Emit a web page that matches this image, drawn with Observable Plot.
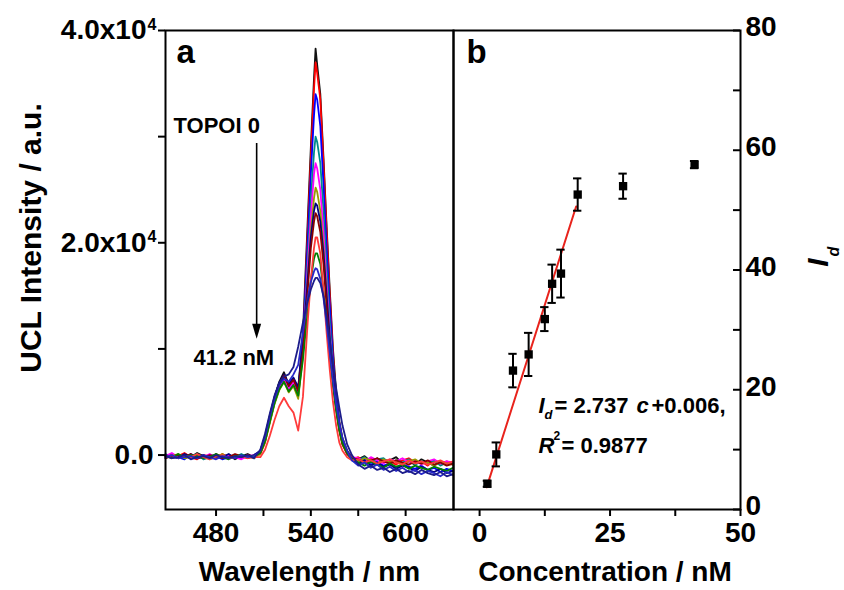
<!DOCTYPE html>
<html><head><meta charset="utf-8">
<script src="https://cdn.jsdelivr.net/npm/d3@7"></script>
<script src="https://cdn.jsdelivr.net/npm/@observablehq/plot@0.6"></script>
<style>
body{margin:0;background:#fff;}
#wrap{position:relative;width:844px;height:590px;overflow:hidden;background:#fff;}
#wrap svg{position:absolute;top:0;}
</style></head><body><div id="wrap"></div>
<script>
// ---------- Panel a: UCL spectra (intensity in units of 1000 a.u.) ----------
const wavelengths = [448,452,456,460,464,468,472,476,480,484,488,492,496,500,504,
  508,511,514,517,520,523,526,529,532,535,538,540,542,543,544,546,548,550,552,554,556,558,560,563,566,
  570,574,578,582,586,590,594,598,602,606,610,614,618,622,626,630];

const specBlack = [-0.2,0.1,-0.3,0,-0.2,0.2,-0.1,-0.3,0.1,-0.2,0,-0.4,-0.1,0.1,-0.2,
  0.3,1.6,3.6,5.4,6.9,7.8,6.6,7.2,6.2,11.5,22,29,35.5,38.3,36.8,34,28,21.5,15.5,10,6,3.2,1.6,0.4,-0.2,
  -0.4,-0.1,-0.6,-0.3,-0.7,-0.5,-0.2,-0.8,-0.6,-0.9,-0.4,-0.7,-1.0,-0.6,-0.9,-0.8];
const specRed = [0,-0.3,-0.1,0.2,-0.2,-0.4,0,-0.1,-0.3,0.1,-0.2,-0.1,-0.3,0,-0.2,
  0.1,1.2,3.2,5.0,6.5,7.4,6.2,6.8,5.6,10.5,21,28,34.5,37.0,36,33.5,27.5,21,15,9.5,5.5,3,1.4,0.3,-0.4,
  -0.2,-0.6,-0.3,-0.8,-0.4,-0.6,-0.9,-0.5,-0.3,-0.7,-0.6,-1.0,-0.5,-0.8,-0.6,-0.9];
const specBlue = [-0.3,0,-0.2,-0.4,0.1,-0.2,-0.3,0,-0.1,-0.4,-0.2,0,-0.3,-0.1,-0.3,
  0.2,1.4,3.4,5.2,6.6,7.3,6.4,7.0,5.8,10.8,20,26.5,32,34.0,33.5,31,25.5,19.5,14,9,5.5,3,1.3,0.2,-0.5,
  -0.7,-0.4,-0.9,-0.6,-1.0,-0.8,-1.2,-0.9,-1.1,-1.3,-1.0,-1.4,-1.2,-1.6,-1.3,-1.5];
const specTeal = [0.1,-0.2,0,-0.3,-0.1,0.1,-0.4,-0.2,0,-0.1,-0.3,-0.2,0.1,-0.2,-0.1,
  0.2,1.3,3.1,4.9,6.2,7.0,6.0,6.6,5.5,10,18.5,24,28.5,30.0,29.5,27.5,23,17.5,12.5,8.2,5,2.7,1.2,0.2,-0.3,
  -0.5,-0.2,-0.7,-0.4,-0.3,-0.8,-0.5,-0.7,-0.4,-0.9,-0.6,-0.8,-0.5,-1.0,-0.7,-0.9];
const specMagenta = [-0.1,0.2,-0.2,-0.1,-0.3,0,-0.2,0.1,-0.3,-0.1,0,-0.2,-0.4,-0.1,0,
  0.3,1.5,3.4,5.1,6.4,7.2,6.2,6.9,5.7,10,17.5,22.5,26.5,27.5,27,25,21,16,11.5,7.6,4.6,2.5,1.1,0.2,-0.2,
  -0.3,-0.6,-0.2,-0.5,-0.8,-0.4,-0.6,-0.3,-0.7,-0.5,-0.9,-0.6,-0.4,-0.8,-0.6,-0.7];
const specOlive = [-0.2,-0.1,0.1,-0.3,-0.2,0,-0.1,-0.4,-0.2,0.1,-0.3,0,-0.2,-0.1,-0.3,
  0.1,1.2,3.0,4.8,6.1,6.9,5.9,6.5,5.3,9.5,16.5,21,24.2,25.2,24.8,23,19.5,15,10.8,7.2,4.4,2.4,1,0.1,-0.3,
  -0.6,-0.3,-0.5,-0.8,-0.4,-0.7,-0.5,-0.9,-0.6,-0.4,-0.8,-0.7,-1.0,-0.6,-0.8,-0.9];
const specNavy = [0,-0.2,-0.3,0.1,-0.1,-0.2,0,-0.3,-0.1,-0.2,0.1,-0.3,-0.1,-0.2,0,
  0.4,1.8,3.7,5.5,6.8,7.6,6.7,7.3,6.4,10.5,16.5,20.5,23,23.7,23.5,22,19,15,11,7.5,4.8,2.7,1.3,0.3,-0.4,
  -0.8,-0.5,-1.0,-0.7,-1.1,-0.9,-1.3,-1.0,-1.2,-1.5,-1.1,-1.4,-1.6,-1.3,-1.7,-1.5];
const specDarkRed = [-0.3,-0.1,0,-0.2,0.1,-0.3,-0.2,0,-0.1,-0.3,-0.2,0.1,-0.1,-0.3,-0.1,
  0.2,1.4,3.3,5.2,6.6,7.5,6.5,7.1,6.0,9.8,15.5,19.5,22,22.8,22.5,21,18,14,10.2,6.9,4.3,2.3,1,0.1,-0.3,
  -0.4,-0.7,-0.5,-0.3,-0.6,-0.8,-0.5,-0.7,-0.9,-0.6,-0.8,-0.5,-0.9,-0.7,-1.0,-0.8];
const specGreen = [-0.1,-0.3,0.1,-0.2,0,-0.1,-0.3,-0.2,0.1,-0.2,-0.4,-0.1,0,-0.2,-0.1,
  0.2,1.3,3.1,4.9,6.2,6.9,6.0,6.6,5.6,9,13.5,16.5,18.5,19.0,19.0,18,15.5,12.5,9.3,6.5,4.2,2.4,1.1,0.2,-0.4,
  -0.7,-1.0,-0.6,-0.9,-1.2,-0.8,-1.1,-0.9,-1.3,-1.0,-1.2,-1.4,-1.1,-1.3,-1.5,-1.2];
const specPink = [-0.2,0,-0.3,-0.1,-0.2,0.1,-0.2,-0.4,-0.1,0,-0.3,-0.2,-0.1,-0.3,-0.2,
  -0.2,0.5,1.8,3.3,4.6,5.4,4.6,4.0,2.3,5.5,12.5,16.5,19.5,20.5,20.5,19,15.5,11.5,8,5,2.8,1.2,0.4,-0.2,-0.5,
  -0.4,-0.7,-0.5,-0.8,-0.6,-0.4,-0.7,-0.9,-0.5,-0.8,-0.6,-0.9,-0.7,-0.5,-0.8,-0.6];
const specBlueBroad = [-0.2,0,-0.3,-0.2,-0.1,-0.3,0,-0.2,-0.4,-0.1,-0.2,-0.3,0,-0.2,-0.1,
  0.4,1.7,3.6,5.3,6.6,7.2,6.9,7.6,8.5,11.5,14.8,16.3,17.3,17.6,17.5,16.6,14.8,12.3,9.6,7,4.8,3,1.6,0.4,-0.5,
  -1.0,-0.7,-1.2,-0.9,-1.4,-1.1,-1.5,-1.2,-1.6,-1.4,-1.8,-1.5,-1.7,-2.0,-1.6,-1.9];
const specNavyBroad = [-0.1,-0.3,-0.2,0,-0.4,-0.2,-0.1,-0.3,0,-0.2,-0.3,-0.1,-0.2,0,-0.3,
  0.5,2.0,3.9,5.6,6.8,7.4,7.6,8.3,10.2,12.5,14.5,15.6,16.4,16.7,16.7,16.2,15,13,10.8,8.5,6.3,4.5,2.8,1,0,
  -0.9,-1.3,-1.0,-1.4,-1.2,-1.6,-1.3,-1.7,-1.5,-1.8,-1.4,-1.7,-1.9,-1.6,-2.0,-1.8];

const seriesNames  = ["black","red","blue","teal","magenta","olive","navy","darkred","green","pink","blueBroad","navyBroad"];
const seriesColors = ["#111111","#ff0000","#0000ff","#008b8b","#ff00ff","#9a9a00","#000080","#8b0000","#008000","#ff3b3b","#2828c8","#1c1c8a"];
const seriesValues = [specBlack,specRed,specBlue,specTeal,specMagenta,specOlive,specNavy,specDarkRed,specGreen,specPink,specBlueBroad,specNavyBroad];

const yTicksA = [0, 20, 40];        // thousands
const yMinorA = [10, 30];
const xTicksA = [480, 540, 600];
const xMinorA = [510, 570];

// ---------- Panel b: I_d vs concentration ----------
const concentration = [1.5, 3.2, 6.4, 9.4, 12.5, 13.9, 15.6, 18.8, 27.5, 41.2];
const idValues      = [4.3, 9.2, 23.2, 25.9, 31.8, 37.7, 39.4, 52.6, 54.0, 57.6];
const idErrors      = [0.5, 2.0, 2.8, 3.6, 2.0, 3.2, 4.0, 2.7, 2.1, 0.6];
const fitConc = [1.35, 18.5];
const fitId   = [3.7, 50.6];
const xTicksB = [0, 25, 50];
const xMinorB = [12.5, 37.5];
const yTicksB = [0, 20, 40, 60, 80];
const yAllTicksB = [0, 10, 20, 30, 40, 50, 60, 70, 80];

// ---------- build tables ----------
const spectra = [];
seriesValues.forEach((vals, k) => vals.forEach((v, i) => spectra.push({name: seriesNames[k], w: wavelengths[i], v})));
const pts = concentration.map((c, i) => ({c, v: idValues[i], e: idErrors[i]}));
const fit = fitConc.map((c, i) => ({c, v: fitId[i]}));

const FONT = "'Liberation Sans', Arial, Helvetica, sans-serif";
const baseStyle = {fontFamily: FONT, fontSize: "28px", fontWeight: "bold", color: "#000", background: "transparent", overflow: "visible"};

const arrowHead = {draw(ctx) { ctx.moveTo(-4.5, -15); ctx.lineTo(4.5, -15); ctx.lineTo(0, 0); ctx.closePath(); }};
const T = (s, o) => Plot.text([s], {text: d => d, frameAnchor: "top-left", textAnchor: "start", lineAnchor: "middle", ...o});

const plotA = Plot.plot({
  width: 455, height: 590,
  marginLeft: 165, marginRight: 2, marginTop: 30, marginBottom: 81,
  style: baseStyle,
  x: {domain: [448, 630.3], label: null},
  y: {domain: [-5.13, 40], label: null},
  color: {domain: seriesNames, range: seriesColors},
  marks: [
    Plot.line(spectra, {x: "w", y: "v", z: "name", stroke: "name", strokeWidth: 1.8, strokeLinejoin: "round"}),
    Plot.frame({strokeWidth: 2}),
    Plot.axisY({ticks: [0], tickSize: 7, tickPadding: 5, tickFormat: () => "0.0", strokeWidth: 2, label: null}),
    Plot.axisY({ticks: yTicksA.filter(d => d > 0), tickSize: 7, tickPadding: 12, tickFormat: d => (d / 10).toFixed(1) + "x10", strokeWidth: 2, label: null}),
    Plot.axisY({ticks: yMinorA, tickSize: 7, tickFormat: () => "", strokeWidth: 2, label: null}),
    Plot.text(yTicksA.filter(d => d > 0), {y: d => d, text: () => "4", frameAnchor: "left", dx: -18, dy: -6, fontSize: 16, textAnchor: "start", lineAnchor: "middle"}),
    Plot.axisX({ticks: xTicksA, tickSize: 7, tickPadding: 6, strokeWidth: 2, label: null}),
    Plot.axisX({ticks: xMinorA, tickSize: 7, tickFormat: () => "", strokeWidth: 2, label: null}),
    Plot.text(["Wavelength / nm"], {text: d => d, frameAnchor: "bottom", dy: 63, textAnchor: "middle", lineAnchor: "middle", fontSize: 28}),
    Plot.text(["UCL Intensity / a.u."], {text: d => d, frameAnchor: "left", dx: -134, dy: -32, rotate: -90, textAnchor: "middle", lineAnchor: "middle", fontSize: 30}),
    T("a", {dx: 11, dy: 22, fontSize: 33}),
    T("TOPOI 0", {dx: 8, dy: 95, fontSize: 22}),
    T("41.2 nM", {dx: 28, dy: 327, fontSize: 22}),
    Plot.link([0], {x1: 505.7, y1: 29.4, x2: 505.7, y2: 12.0, stroke: "#000", strokeWidth: 1.6}),
    Plot.dot([0], {x: 505.7, y: 10.95, symbol: arrowHead, fill: "#000", stroke: "none"})
  ]
});

const plotB = Plot.plot({
  width: 391, height: 590,
  marginLeft: 0, marginRight: 104, marginTop: 30, marginBottom: 81,
  style: baseStyle,
  x: {domain: [-5, 50], label: null},
  y: {domain: [0, 80], label: null},
  marks: [
    Plot.frame({strokeWidth: 2}),
    Plot.line(fit, {x: "c", y: "v", stroke: "#e8231c", strokeWidth: 2}),
    Plot.ruleX(pts, {x: "c", y1: d => d.v - d.e, y2: d => d.v + d.e, stroke: "#000", strokeWidth: 2}),
    Plot.ruleY(pts, {y: d => d.v + d.e, x1: d => d.c - 0.8, x2: d => d.c + 0.8, stroke: "#000", strokeWidth: 2}),
    Plot.ruleY(pts, {y: d => d.v - d.e, x1: d => d.c - 0.8, x2: d => d.c + 0.8, stroke: "#000", strokeWidth: 2}),
    Plot.dot(pts, {x: "c", y: "v", symbol: "square", r: 4.7, fill: "#000", stroke: "none"}),
    Plot.axisX({ticks: xTicksB, tickSize: 7, tickPadding: 6, strokeWidth: 2, label: null}),
    Plot.axisX({ticks: xMinorB, tickSize: 7, tickFormat: () => "", strokeWidth: 2, label: null}),
    Plot.axisY({anchor: "right", ticks: yTicksB, tickSize: 0, tickPadding: 5, dy: -3, label: null}),
    Plot.tickY(yAllTicksB, {y: d => d, insetLeft: 280, stroke: "#000", strokeWidth: 2}),
    Plot.text(["Concentration / nM"], {text: d => d, frameAnchor: "bottom", dx: 8, dy: 63, textAnchor: "middle", lineAnchor: "middle", fontSize: 28}),
    T("b", {dx: 13, dy: 22, fontSize: 33}),
    // right axis title I_d
    T("I", {dx: 818 - 453, dy: 262 - 30, rotate: -90, textAnchor: "middle", fontSize: 30, fontStyle: "italic"}),
    T("d", {dx: 833 - 453, dy: 251 - 30, rotate: -90, textAnchor: "middle", fontSize: 16, fontStyle: "italic"}),
    // equation annotation
    T("I", {dx: 85, dy: 375, fontSize: 22, fontStyle: "italic"}),
    T("d", {dx: 91, dy: 384, fontSize: 13, fontStyle: "italic"}),
    T("= 2.737", {dx: 101, dy: 375, fontSize: 22}),
    T("c", {dx: 183, dy: 375, fontSize: 22, fontStyle: "italic"}),
    T("+0.006,", {dx: 198, dy: 375, fontSize: 22}),
    T("R", {dx: 85, dy: 415, fontSize: 22, fontStyle: "italic"}),
    T("2", {dx: 100, dy: 406, fontSize: 12}),
    T("= 0.9877", {dx: 108, dy: 415, fontSize: 22})
  ]
});

const wrap = document.getElementById("wrap");
plotA.style.left = "0px";
plotB.style.left = "453px";
wrap.appendChild(plotA);
wrap.appendChild(plotB);
</script>
</body></html>
